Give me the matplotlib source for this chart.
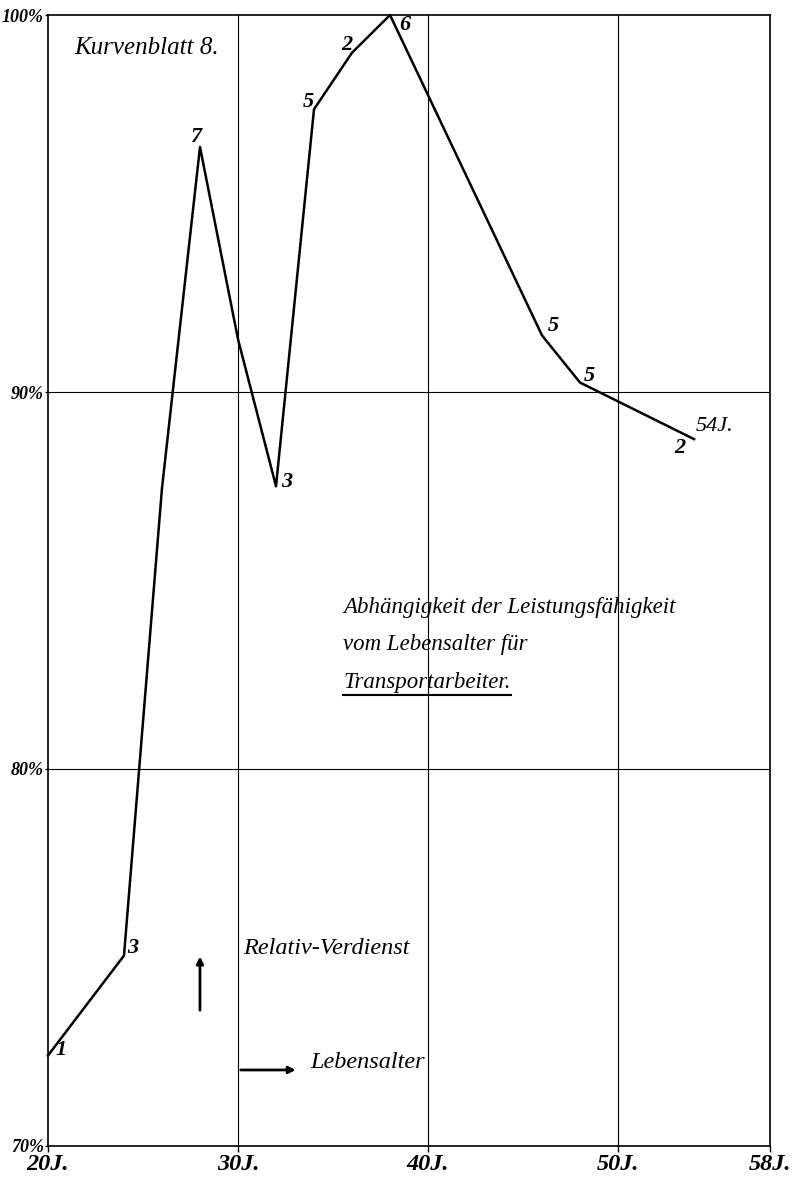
import matplotlib
matplotlib.use('Agg')
import matplotlib.pyplot as plt
from matplotlib.lines import Line2D

# Lebensalter (Jahre) und Relativ-Verdienst (%) der Transportarbeiter
ages = [20, 24, 26, 28, 30, 32, 34, 36, 38, 46, 48, 54]
verdienst = [72.4, 75.05, 87.45, 96.5, 91.4, 87.5, 97.5, 99.0, 100.0, 91.5, 90.25, 88.75]
anzahl = ['1', '3', '', '7', '', '3', '5', '2', '6', '5', '5', '2']

x_ticks = [20, 30, 40, 50, 58]
x_labels = ['20J.', '30J.', '40J.', '50J.', '58J.']
y_ticks = [70, 80, 90, 100]
y_labels = ['70%', '80%', '90%', '100%']

# Versatz der Zahlen neben den Knickpunkten (Pixel)
label_offsets = [(13, 5), (9, 8), (0, 0), (-4, 10), (0, 0), (11, 4),
                 (-6, 7), (-5, 8), (15, -10), (11, 9), (9, 7), (-14, -9)]

serif = 'Liberation Serif'

fig = plt.figure(figsize=(7.97, 11.83), dpi=100)
ax = fig.add_axes([0.0602, 0.0313, 0.906, 0.956])

ax.set_xlim(20, 58)
ax.set_ylim(70, 100)

# Gitter
for x in x_ticks[1:-1]:
    ax.axvline(x, color='black', lw=0.8, zorder=1)
for y in y_ticks[1:-1]:
    ax.axhline(y, color='black', lw=0.8, zorder=1)

for s in ax.spines.values():
    s.set_linewidth(1.2)

ax.set_xticks(x_ticks)
ax.set_xticklabels(x_labels, family=serif, style='italic', weight='bold', fontsize=17.5)
ax.set_yticks(y_ticks)
ax.set_yticklabels(y_labels, family=serif, style='italic', weight='bold', fontsize=13)
ax.tick_params(axis='x', length=4, width=1, pad=2)
ax.tick_params(axis='y', length=2, width=1, pad=1)

# Kurve
ax.plot(ages, verdienst, color='black', lw=1.8, zorder=3, clip_on=False)

for a, v, n, off in zip(ages, verdienst, anzahl, label_offsets):
    if n:
        ax.annotate(n, (a, v), xytext=off, textcoords='offset pixels',
                    ha='center', va='center', family=serif, style='italic',
                    weight='bold', fontsize=16)
ax.annotate('54J.', (ages[-1], verdienst[-1]), xytext=(2, 13), textcoords='offset pixels',
            ha='left', va='center', family=serif, style='italic', fontsize=16)

# Beschriftungen
ax.text(0.037, 0.971, 'Kurvenblatt 8.', transform=ax.transAxes, family=serif,
        style='italic', fontsize=18, va='center', ha='left')

txt_kw = dict(transform=ax.transAxes, family=serif, style='italic', fontsize=16.5,
              va='center', ha='left')
ax.text(0.409, 0.4757, 'Abhängigkeit der Leistungsfähigkeit', **txt_kw)
ax.text(0.409, 0.443, 'vom Lebensalter für', **txt_kw)
t3 = ax.text(0.409, 0.410, 'Transportarbeiter.', **txt_kw)

txt_kw['fontsize'] = 17.5
ax.text(0.270, 0.175, 'Relativ-Verdienst', **txt_kw)
ax.text(0.363, 0.0734, 'Lebensalter', **txt_kw)

# Pfeile
ax.annotate('', xy=(0.2105, 0.170), xytext=(0.2105, 0.1176), xycoords='axes fraction',
            arrowprops=dict(arrowstyle='-|>', color='black', lw=2, mutation_scale=10))
ax.annotate('', xy=(0.347, 0.0672), xytext=(0.263, 0.0672), xycoords='axes fraction',
            arrowprops=dict(arrowstyle='-|>', color='black', lw=2, mutation_scale=10))

# Unterstreichung
fig.canvas.draw()
bb = t3.get_window_extent().transformed(fig.transFigure.inverted())
uy = bb.y0 - 0.002
fig.add_artist(Line2D([bb.x0, bb.x1], [uy, uy],
                      transform=fig.transFigure, color='black', lw=1.5))

fig.savefig('out.png', dpi=100)
